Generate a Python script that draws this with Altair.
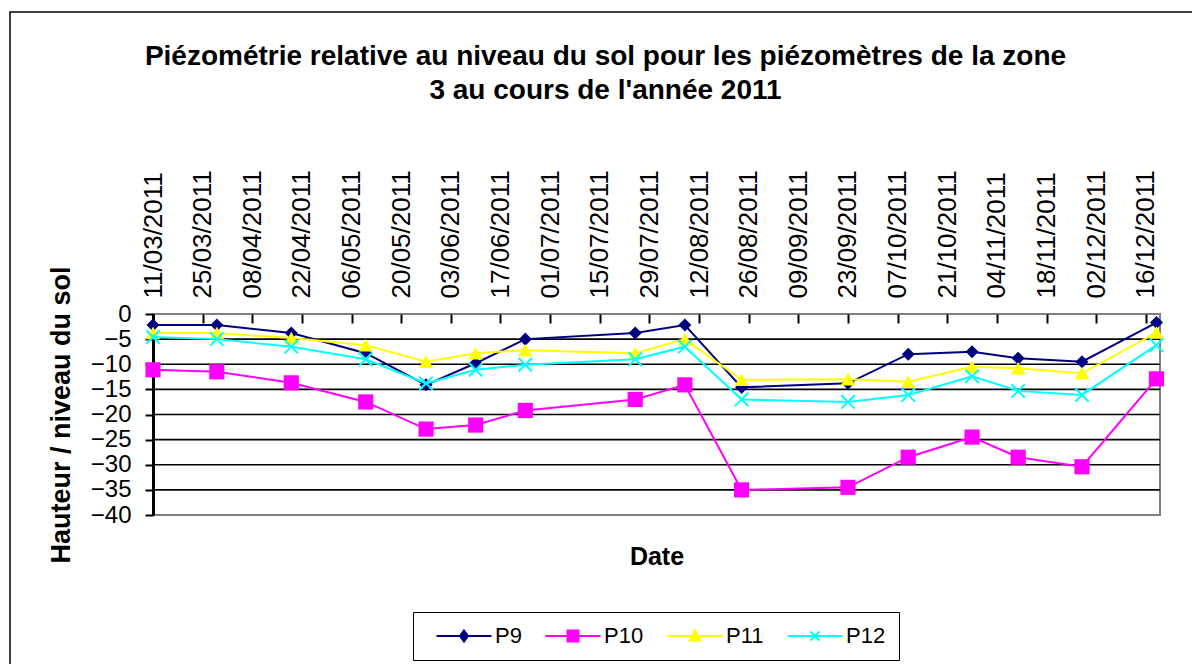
import altair as alt
import pandas as pd

# ---- data ----
dates = ["11/03/2011", "29/03/2011", "19/04/2011", "10/05/2011", "27/05/2011",
         "10/06/2011", "24/06/2011", "25/07/2011", "08/08/2011", "24/08/2011",
         "23/09/2011", "10/10/2011", "28/10/2011", "10/11/2011", "28/11/2011",
         "19/12/2011"]
p9 = [-2.2, -2.2, -3.8, -7.8, -14.1, -9.8, -5.0, -3.8, -2.2, -14.6,
      -13.8, -8.0, -7.5, -8.8, -9.5, -1.7]
p10 = [-11.1, -11.5, -13.7, -17.5, -22.9, -22.1, -19.2, -17.0, -14.1, -35.0,
       -34.5, -28.5, -24.5, -28.5, -30.4, -12.9]
p11 = [-3.8, -3.8, -4.8, -6.2, -9.5, -7.8, -7.2, -7.8, -5.0, -13.1,
       -13.0, -13.5, -10.5, -10.8, -11.8, -3.7]
p12 = [-4.6, -5.0, -6.5, -9.0, -13.8, -11.1, -10.1, -9.0, -6.5, -17.0,
       -17.5, -16.1, -12.4, -15.3, -16.1, -6.2]

series_names = ["P9", "P10", "P11", "P12"]
series_values = [p9, p10, p11, p12]
colors = ["#000080", "#FF00FF", "#FFFF00", "#00FFFF"]

tick_labels = ["11/03/2011", "25/03/2011", "08/04/2011", "22/04/2011", "06/05/2011",
               "20/05/2011", "03/06/2011", "17/06/2011", "01/07/2011", "15/07/2011",
               "29/07/2011", "12/08/2011", "26/08/2011", "09/09/2011", "23/09/2011",
               "07/10/2011", "21/10/2011", "04/11/2011", "18/11/2011", "02/12/2011",
               "16/12/2011"]
x_limits = ["11/03/2011", "20/12/2011"]
y_ticks = [0, -5, -10, -15, -20, -25, -30, -35, -40]
grid_values = [-5, -10, -15, -20, -25, -30, -35]

title_lines = ["Piézométrie relative au niveau du sol pour les piézomètres de la zone",
               "3 au cours de l'année 2011"]

FONT = "Liberation Sans"

# ---- build table ----
iso_dates = list(pd.to_datetime(dates, format="%d/%m/%Y").strftime("%Y-%m-%d"))
rows = []
for name, vals in zip(series_names, series_values):
    for d, v in zip(iso_dates, vals):
        rows.append({"date": d, "series": name, "value": v})
df = pd.DataFrame(rows)
grid_df = pd.DataFrame({"value": grid_values})


def to_ms(s):
    return int(pd.to_datetime(s, format="%d/%m/%Y").value // 10**6)


tick_ms = [to_ms(t) for t in tick_labels]
x_domain = [to_ms(x_limits[0]), to_ms(x_limits[1])]

xscale = alt.Scale(type="utc", domain=x_domain)
yscale = alt.Scale(domain=[-40, 0], nice=False, zero=False)

top_axis = alt.Axis(orient="top", offset=-9, domain=False, ticks=True, tickSize=9,
                    tickWidth=2, tickColor="black", labelAngle=-90, labelPadding=16,
                    labelFontSize=26, labelFont=FONT, labelColor="black",
                    format="%d/%m/%Y", values=tick_ms, title=None, grid=False,
                    labelFlush=False, labelOverlap=False)
left_axis = alt.Axis(orient="left", values=y_ticks, title="Hauteur / niveau du sol",
                     titleFont=FONT, titleFontSize=27, titleFontWeight="bold",
                     titleColor="black", titlePadding=15, labelFontSize=24,
                     labelFont=FONT, labelColor="black", labelPadding=14, tickSize=8,
                     tickWidth=2, tickColor="black", domainColor="black",
                     domainWidth=3, grid=False)
bottom_axis = alt.Axis(orient="bottom", labels=False, ticks=False, domain=False,
                       grid=False, title="Date", titleFont=FONT, titleFontSize=25,
                       titleFontWeight="bold", titleColor="black", titlePadding=29)

x_none = alt.X("date:T", scale=xscale, axis=None)
y_enc = alt.Y("value:Q", scale=yscale, axis=left_axis)

base = alt.Chart(df)

gridlines = alt.Chart(grid_df).mark_rule(color="black", strokeWidth=1.7).encode(y=y_enc)

marker_shapes = ["diamond", "square", "triangle-up", "M-1,-1L1,1M-1,1L1,-1"]
marker_sizes = [170, 230, 210, 180]
marker_filled = [True, True, True, False]

layers = []
for i, name in enumerate(series_names):
    enc_x = alt.X("date:T", scale=xscale, axis=top_axis) if i == 0 else x_none
    line = base.transform_filter(alt.datum.series == name).mark_line(
        color=colors[i], strokeWidth=2).encode(x=enc_x, y=y_enc)
    pts = base.transform_filter(alt.datum.series == name).mark_point(
        shape=marker_shapes[i], size=marker_sizes[i], filled=marker_filled[i],
        color=colors[i], opacity=1, strokeWidth=2).encode(x=x_none, y=y_enc)
    layers += [line, pts]

legend_paths = [
    "M-5.5,0H5.5M0,-1.1L0.8,0L0,1.1L-0.8,0Z",
    "M-5.5,0H5.5M-1.1,-1.1H1.1V1.1H-1.1Z",
    "M-5.5,0H5.5M0,-1.1L1.1,0.9H-1.1Z",
    "M-5.5,0H5.5M-0.9,-0.9L0.9,0.9M-0.9,0.9L0.9,-0.9",
]
leg = alt.Legend(orient="none", legendX=260, legendY=298, direction="horizontal",
                 title=None, strokeColor="black", padding=13, symbolSize=100,
                 symbolOffset=27, labelOffset=20, columnPadding=13,
                 labelFontSize=22, labelFont=FONT, labelColor="black",
                 symbolStrokeWidth=2, symbolOpacity=1)

ghost = base.transform_filter("false").mark_point(opacity=1, strokeWidth=2).encode(
    x=alt.X("date:T", scale=xscale, axis=bottom_axis),
    y=y_enc,
    fill=alt.Fill("series:N", scale=alt.Scale(domain=series_names, range=colors), legend=leg),
    stroke=alt.Stroke("series:N", scale=alt.Scale(domain=series_names, range=colors), legend=leg),
    shape=alt.Shape("series:N", scale=alt.Scale(domain=series_names, range=legend_paths), legend=leg),
)

frame = alt.Chart(alt.Data(values=[{"k": 1}])).mark_rect(
    fill="transparent", stroke="black", strokeWidth=1.5).encode(
    x=alt.value(-143), y=alt.value(-302), x2=alt.value(1100), y2=alt.value(400))

chart = alt.layer(frame, gridlines, *layers, ghost).properties(
    width=1007, height=201,
    title=alt.TitleParams(text=title_lines, font=FONT, fontSize=28, fontWeight="bold",
                          color="black", anchor="middle", dx=-51, offset=-94,
                          lineHeight=34),
    padding={"left": 145, "top": 306, "right": 32, "bottom": 149},
    autosize=alt.AutoSizeParams(type="none"),
).configure(font=FONT).configure_view(stroke="#808080", strokeWidth=2)

chart.save("out.html", embed_options={"renderer": "svg", "actions": False})
